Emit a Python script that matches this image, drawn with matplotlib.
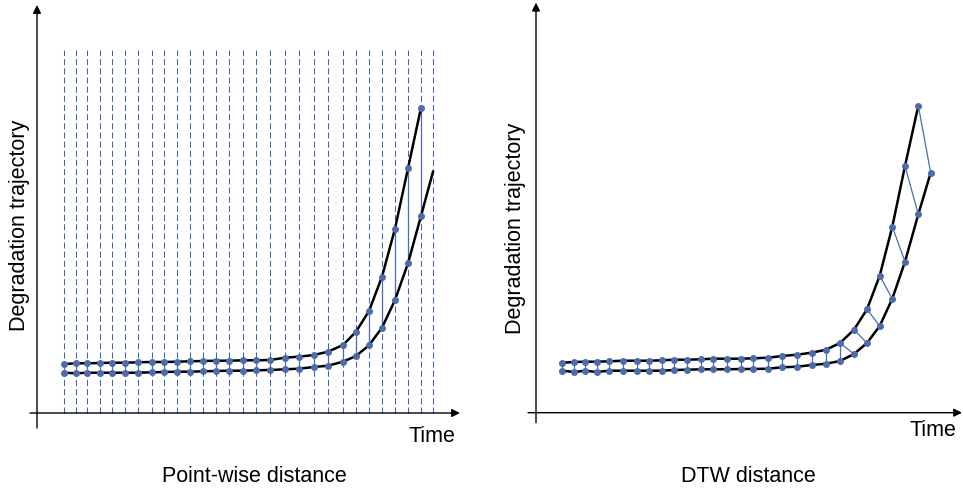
import matplotlib.pyplot as plt

plt.rcParams['font.family'] = ['Liberation Sans', 'DejaVu Sans']

# ---- left panel: point-wise distance ----
# time grid (one dashed line per sample)
pw_time = [27, 39, 50, 63, 75, 88, 101, 115, 127, 140, 153, 166, 179, 192, 206,
           219, 233, 248, 262, 277, 291, 306, 319, 332, 345, 358, 371, 384, 396]
pw_upper = [49, 49.7, 49.7, 50, 50.3, 50.3, 50.7, 51, 51, 51.3, 51.7, 52, 52.3, 52.3,
            52.7, 52.7, 53, 55.3, 56.3, 58, 61.3, 68, 81.3, 102, 136.3, 184.3, 244.7, 305.3]
pw_lower = [40.3, 39.7, 40.3, 40.3, 40.3, 40.3, 40.3, 40.7, 41, 41.3, 41.3, 41.7, 42, 42.3,
            42.3, 42.7, 43, 43.7, 44.3, 46, 47.3, 51.3, 57, 67.7, 85.3, 113, 149.7, 197]
pw_lower_tail = (396, 241.3)   # lower curve runs on past its last sample
grid_top = 363

# ---- right panel: DTW distance ----
dtw_time = [26.3, 38.3, 49, 60.7, 73.3, 87.3, 100.7, 113, 126, 138.3, 151.3, 164.7, 177.3,
            191, 204.7, 217.3, 231.7, 246.3, 261, 275.7, 290, 304, 318, 331, 343.7, 356.3,
            369, 382.3, 394.7]
dtw_upper = [50, 50.7, 51, 51, 51.4, 52, 52, 52, 52.4, 53, 53, 53.4, 54, 54, 54, 54.4, 55,
             56.7, 58, 60, 63, 69.7, 83, 103.4, 137, 186, 246.7, 307]
dtw_lower = [42, 40.7, 42, 40.7, 42, 42, 42, 42, 42, 42.7, 43, 43.4, 43.4, 43.4, 43.7, 43.7,
             44, 45.4, 46, 47.7, 49, 51.7, 58.7, 69.7, 86.7, 114, 151, 198.4, 240]
# warping path: (upper index, lower index)
dtw_pairs = [(i, i) for i in range(22)] + [(i, i + 1) for i in range(21, 28)]

dot_col = '#4d6cab'
grid_col = '#4464a8'

fig = plt.figure(figsize=(9.63, 4.92), dpi=100)
ax1 = fig.add_axes([0, 0, 480 / 963, 1])
ax1.set_xlim(-37, 443)
ax1.set_ylim(-79, 413)
ax2 = fig.add_axes([500 / 963, 0, 463 / 963, 1])
ax2.set_xlim(-36, 427)
ax2.set_ylim(-79.3, 412.7)
for ax in (ax1, ax2):
    ax.axis('off')

arrow = dict(arrowstyle='-|>', color='black', lw=1.0, mutation_scale=12,
             shrinkA=0, shrinkB=0)

# left
ax1.annotate('', xy=(0, 408), xytext=(0, -15), arrowprops=arrow)
ax1.annotate('', xy=(423, 0), xytext=(-7, 0), arrowprops=arrow)
for t in pw_time:
    ax1.plot([t, t], [0, grid_top], color=grid_col, lw=0.75,
             linestyle=(0, (5.8, 3.0)), zorder=1)
n = len(pw_upper)
for i in range(n):
    ax1.plot([pw_time[i], pw_time[i]], [pw_lower[i], pw_upper[i]],
             color=dot_col, lw=0.9, zorder=2)
ax1.plot(pw_time[:n], pw_upper, color='black', lw=1.8, zorder=3)
ax1.plot(pw_time[:n] + [pw_lower_tail[0]], pw_lower + [pw_lower_tail[1]],
         color='black', lw=1.8, zorder=3)
ax1.plot(pw_time[:n], pw_upper, 'o', color=dot_col, ms=4, zorder=4)
ax1.plot(pw_time[:n], pw_lower, 'o', color=dot_col, ms=4, zorder=4)
ax1.text(394.5, -24, 'Time', fontsize=15.5, ha='center', va='center')
ax1.text(217, -64, 'Point-wise distance', fontsize=15.5, ha='center', va='center')
ax1.text(-17, 188, 'Degradation trajectory', fontsize=15.5, ha='center',
         va='center', rotation=90)

# right
ax2.annotate('', xy=(0, 410), xytext=(0, -10), arrowprops=arrow)
ax2.annotate('', xy=(426, 0), xytext=(-8, 0), arrowprops=arrow)
for i, j in dtw_pairs:
    ax2.plot([dtw_time[i], dtw_time[j]], [dtw_upper[i], dtw_lower[j]],
             color=dot_col, lw=0.9, zorder=2)
ax2.plot(dtw_time[:len(dtw_upper)], dtw_upper, color='black', lw=1.8, zorder=3)
ax2.plot(dtw_time, dtw_lower, color='black', lw=1.8, zorder=3)
ax2.plot(dtw_time[:len(dtw_upper)], dtw_upper, 'o', color=dot_col, ms=4, zorder=4)
ax2.plot(dtw_time, dtw_lower, 'o', color=dot_col, ms=4, zorder=4)
ax2.text(397, -18.3, 'Time', fontsize=15.5, ha='center', va='center')
ax2.text(212, -64.3, 'DTW distance', fontsize=15.5, ha='center', va='center')
ax2.text(-21, 184.7, 'Degradation trajectory', fontsize=15.5, ha='center',
         va='center', rotation=90)

fig.savefig('out.png', dpi=100)
